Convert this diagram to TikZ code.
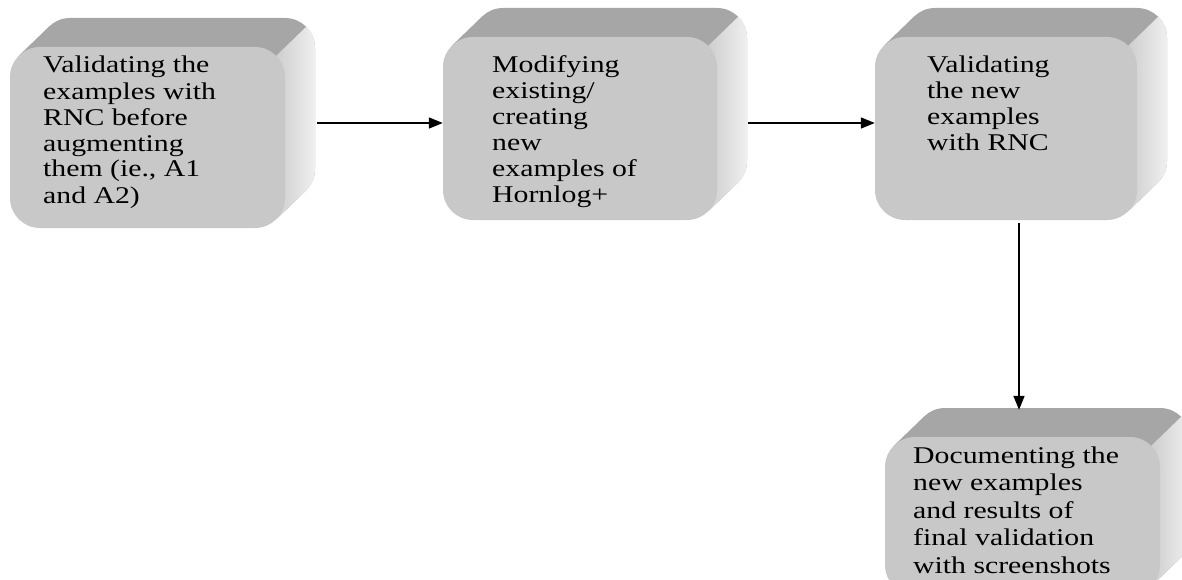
\documentclass[tikz,border=0pt]{standalone}
\usepackage{fontspec}
\setmainfont{Liberation Serif}[FakeStretch=1.24]
\usepackage{tikz}
\usetikzlibrary{arrows.meta}

\definecolor{facegray}{RGB}{200,200,200}
\definecolor{topgray}{RGB}{166,166,166}
\definecolor{sidegray}{RGB}{206,206,206}
\definecolor{sidelight}{RGB}{240,240,240}

% 3D box: name, left, top, right, bottom (front face, in pt, y up)
\newcommand{\bevelbox}[5]{%
  \fill[topgray, rounded corners=30pt] ({#2+30},{#3+29}) rectangle ({#4+30},{#5+29});
  \fill[topgray] ({#2+8.79},{#3-8.79}) -- ({#2+38.79},{#3+20.21})
    -- ({#4+21.21},{#5+37.79}) -- ({#4-8.79},{#5+8.79}) -- cycle;
  \shade[left color=sidegray, right color=sidelight]
    ({#4-8.79},{#3-8.79}) -- ({#4+21.21},{#3+20.21})
    arc[start angle=45, end angle=0, radius=30pt] -- ({#4+30},{#5+59})
    arc[start angle=0, end angle=-45, radius=30pt] -- ({#4-8.79},{#5+8.79}) -- cycle;
  \fill[facegray, rounded corners=30pt] (#2,#3) rectangle (#4,#5);
  \node[inner sep=0pt, minimum width={#4-#2}, minimum height={#3-#5}] (#1)
    at ({(#2+#4)/2},{(#3+#5)/2}) {};
}

\begin{document}
\begin{tikzpicture}[x=1pt, y=1pt]
% text nodes are placed at the baseline of their last line
\tikzstyle{boxtext} = [anchor=base west, inner sep=0pt, align=left, font=\fontsize{24}{26}\selectfont]
\tikzstyle{arrow} = [line width=1.6pt, -{Triangle[length=14pt, width=11pt]}]

\useasboundingbox (0,0) rectangle (1182,-580);
\clip (0,0) rectangle (1182,-580);
\fill[white] (0,0) rectangle (1182,-580);

\bevelbox{validate}{10}{-47}{285}{-228}
\bevelbox{modify}{443}{-37}{717}{-220}
\bevelbox{revalidate}{875}{-37}{1137}{-220}
\bevelbox{document}{885}{-437}{1160}{-595}

\node[boxtext] (validatetext) at (43,-203) {Validating the\\examples with\\RNC before\\augmenting\\them (ie., A1\\and A2)};
\node[boxtext] (modifytext) at (492,-202) {Modifying\\existing/\\creating\\new\\examples of\\Hornlog+};
\node[boxtext] (revalidatetext) at (927,-151) {Validating\\the new\\examples\\with RNC};
\node[boxtext, font=\fontsize{24}{27.5}\selectfont] (documenttext) at (913,-573) {Documenting the\\new examples\\and results of\\final validation\\with screenshots};

\draw [arrow] ([xshift=32pt,yshift=14.5pt]validate.east) -- ([yshift=5.5pt]modify.west);
\draw [arrow] ([xshift=31pt,yshift=5.5pt]modify.east) -- ([yshift=5.5pt]revalidate.west);
\draw [arrow] ([xshift=13pt,yshift=-3pt]revalidate.south) -- ([xshift=-3.5pt,yshift=27pt]document.north);
\end{tikzpicture}
\end{document}
